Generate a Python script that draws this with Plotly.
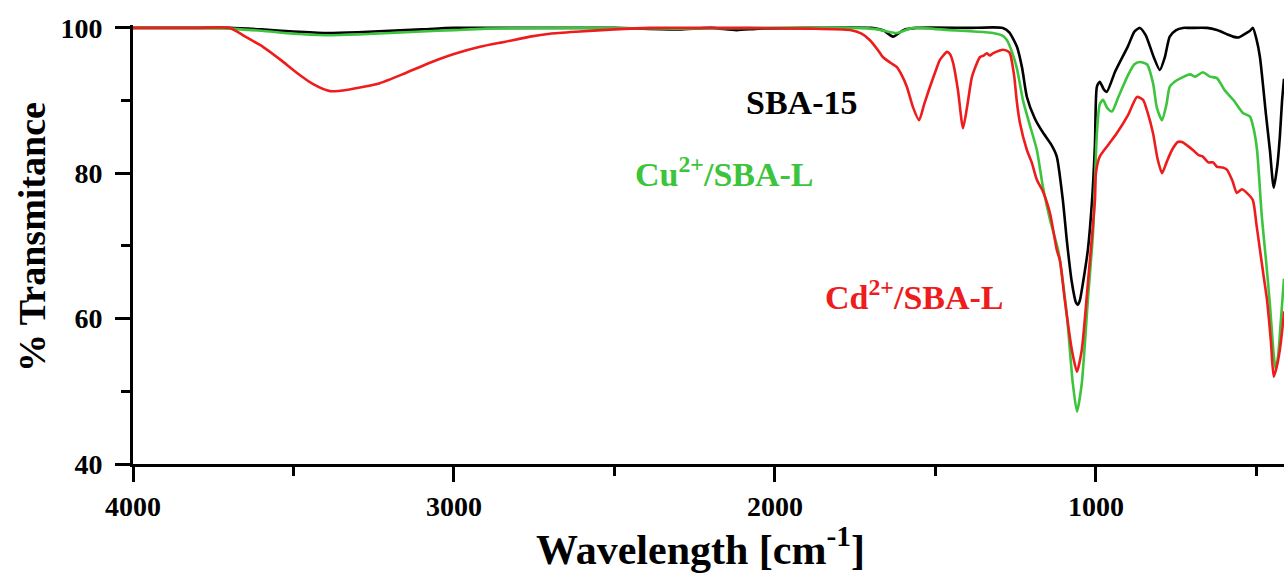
import plotly.graph_objects as go

# SBA-15 (black)
wn_sba = [4000, 3800, 3700, 3600, 3500, 3400, 3300, 3200, 3100, 3000, 2800, 2500, 2300, 2200, 2120, 2050,
          1900, 1700, 1660, 1632, 1600, 1560, 1400, 1290, 1270, 1246, 1230, 1215, 1190, 1165, 1140, 1122,
          1103, 1090, 1075, 1062, 1056, 1050, 1040, 1025, 1012, 1003, 997, 988, 975, 966, 940, 900, 880,
          863, 845, 820, 801, 785, 770, 750, 729, 707, 654, 623, 590, 573, 555, 542, 520, 511, 500, 489,
          470, 458, 446, 435, 427, 420, 414]
t_sba = [100, 100, 100, 99.8, 99.5, 99.3, 99.4, 99.6, 99.8, 100, 100, 100, 99.8, 100, 99.7, 99.9,
         100, 100, 99.6, 98.8, 99.7, 100, 100, 100, 99.4, 97.4, 94.5, 90.5, 87.5, 85.6, 84.0, 82.3,
         76.3, 70.5, 65.0, 62.2, 61.9, 62.5, 65.0, 69.5, 76.3, 84.0, 91.9, 92.6, 91.5, 91.2, 94.0, 97.5, 99.5,
         100, 99.0, 96.0, 94.2, 96.0, 98.8, 99.7, 100, 100, 100, 99.7, 99.1, 98.8, 98.7, 99.0, 99.6, 100, 98.5, 96.0,
         88.0, 83.2, 78.0, 81.0, 85.0, 90.0, 93.0]

# Cu2+/SBA-L (green)
wn_cu = [4000, 3800, 3700, 3600, 3500, 3400, 3300, 3200, 3100, 3000, 2900, 2600, 2300, 2000, 1800, 1757,
         1680, 1620, 1580, 1558, 1455, 1380, 1321, 1290, 1277, 1260, 1246, 1227, 1205, 1184, 1165, 1143,
         1118, 1112, 1090, 1072, 1059, 1044, 1025, 1009, 997, 988, 978, 965, 950, 930, 900, 880, 863,
         841, 822, 810, 794, 780, 770, 748, 707, 690, 667, 645, 623, 600, 570, 542, 520, 508, 498, 483,
         470, 458, 446, 440, 432, 425, 414]
t_cu = [100, 100, 99.9, 99.6, 99.2, 99.0, 99.1, 99.3, 99.5, 99.7, 99.9, 100, 99.9, 100, 100, 100,
        99.8, 99.3, 99.9, 100, 99.7, 99.5, 99.3, 98.9, 98.3, 96.5, 94.4, 90.0, 86.5, 83.2, 78.1, 73.6,
        69.5, 68.0, 60.2, 51.1, 47.2, 51.1, 62.6, 71.8, 85.5, 89.5, 90.1, 89.0, 88.5, 90.5, 93.5, 95.0, 95.3,
        95.0, 92.4, 89.0, 87.3, 89.5, 91.9, 92.8, 93.6, 93.3, 93.9, 93.3, 93.1, 91.5, 90.0, 88.3, 87.8, 86.0, 83.2, 74.0,
        68.0, 62.0, 55.0, 53.0, 55.0, 59.0, 65.5]

# Cd2+/SBA-L (red)
wn_cd = [4000, 3800, 3698, 3650, 3595, 3540, 3489, 3440, 3386, 3330, 3231, 3150, 3075, 3000, 2919, 2840,
         2763, 2701, 2607, 2500, 2389, 2200, 2078, 1900, 1766, 1730, 1704, 1680, 1664, 1640, 1620, 1605,
         1589, 1570, 1551, 1535, 1517, 1500, 1486, 1464, 1455, 1445, 1430, 1414, 1400, 1386, 1361, 1350,
         1340, 1330, 1321, 1300, 1290, 1275, 1268, 1255, 1246, 1237, 1215, 1200, 1184, 1165, 1143, 1122,
         1112, 1097, 1075, 1059, 1044, 1025, 1003, 1000, 988, 960, 935, 900, 872, 853, 840, 822, 808,
         794, 780, 763, 745, 732, 715, 698, 680, 667, 650, 635, 623, 605, 592, 575, 561, 545, 530, 511,
         500, 489, 478, 467, 455, 446, 436, 427, 417, 414]
t_cd = [100, 100, 100, 98.8, 97.4, 95.6, 93.8, 92.3, 91.3, 91.5, 92.4, 93.8, 95.2, 96.4, 97.4, 98.1,
        98.8, 99.2, 99.5, 99.8, 100, 100, 100, 99.9, 99.7, 99.2, 98.3, 97.0, 96.0, 95.2, 94.6, 93.5,
        91.9, 89.1, 87.3, 89.5, 91.9, 94.0, 95.6, 96.7, 96.4, 95.2, 91.5, 86.2, 89.5, 93.3, 96.0, 96.2,
        96.5, 96.2, 96.5, 96.9, 97.0, 96.8, 96.5, 93.5, 89.7, 87.0, 83.2, 81.5, 79.1, 77.5, 74.5, 69.5,
        68.0, 62.6, 55.7, 52.7, 55.7, 64.9, 76.3, 80.0, 82.3, 84.0, 85.5, 88.0, 90.5, 90.1, 88.5, 85.5, 82.0,
        80.0, 81.5, 83.2, 84.3, 84.3, 83.8, 83.2, 82.5, 82.3, 81.5, 81.5, 80.9, 80.8, 80.5, 79.0, 77.3, 77.8, 77.3, 76.3,
        73.0, 69.5, 66.0, 62.6, 57.0, 52.0, 53.5, 55.7, 59.5, 61.0]

series_names = ["SBA-15", "Cu<sup>2+</sup>/SBA-L", "Cd<sup>2+</sup>/SBA-L"]
series_colors = ["#000000", "#3cc43c", "#ee1c1c"]

x_ticks = [4000, 3000, 2000, 1000]
y_ticks = [40, 60, 80, 100]

FONT = "Liberation Serif, Times New Roman, serif"

W, H = 1284, 574
ML, MT, MB = 133, 25, 110
PW = W - ML
PH = H - MT - MB

fig = go.Figure()
for wn, t, name, col in zip([wn_sba, wn_cu, wn_cd], [t_sba, t_cu, t_cd], series_names, series_colors):
    fig.add_trace(go.Scatter(x=wn, y=t, mode="lines", name=name,
                             line=dict(color=col, width=2.6, shape="spline", smoothing=0.6)))

axis_common = dict(showgrid=False, zeroline=False, showline=True, linecolor="black", linewidth=3,
                   ticks="outside", tickwidth=3, ticklen=15, tickcolor="black",
                   tickfont=dict(family=FONT, size=28, color="black", weight="bold"))

fig.update_xaxes(range=[4000, 414], tickvals=x_ticks, ticktext=[str(v) for v in x_ticks],
                 minor=dict(tickvals=[3500, 2500, 1500, 500], ticklen=9, tickwidth=3,
                            tickcolor="black", ticks="outside"),
                 **axis_common)
fig.update_yaxes(range=[40, 100.4], tickvals=y_ticks, ticktext=[str(v) for v in y_ticks],
                 minor=dict(tickvals=[50, 70, 90], ticklen=9, tickwidth=3,
                            tickcolor="black", ticks="outside"),
                 ticklabelstandoff=7,
                 **axis_common)

annotations = [
    dict(x=1916, y=89.8, text="<b>SBA-15</b>", font=dict(color=series_colors[0])),
    dict(x=2156, y=80.2, text="<b>Cu<sup>2+</sup>/SBA-L</b>", font=dict(color=series_colors[1])),
    dict(x=1565, y=63.3, text="<b>Cd<sup>2+</sup>/SBA-L</b>", font=dict(color=series_colors[2])),
]
for a in annotations:
    a.update(xref="x", yref="y", showarrow=False, xanchor="center", yanchor="middle")
    a["font"].update(family=FONT, size=34)
    fig.add_annotation(**a)

# axis titles
fig.add_annotation(xref="paper", yref="paper", x=(700 - ML) / PW, y=(464 - 546) / PH,
                   text="<b>Wavelength [cm<sup>-1</sup>]</b>", showarrow=False,
                   xanchor="center", yanchor="middle",
                   font=dict(family=FONT, size=42, color="black"))
fig.add_annotation(xref="paper", yref="paper", x=(32 - ML) / PW, y=(464 - 237) / PH,
                   text="<b>% Transmitance</b>", showarrow=False, textangle=-90,
                   xanchor="center", yanchor="middle",
                   font=dict(family=FONT, size=38, color="black"))

fig.update_layout(width=W, height=H, margin=dict(l=ML, r=0, t=MT, b=MB),
                  paper_bgcolor="white", plot_bgcolor="white", showlegend=False)

fig.write_html("out.html", config={"displayModeBar": False},
               post_script="document.body.style.margin='0px';document.body.style.overflow='hidden';")
